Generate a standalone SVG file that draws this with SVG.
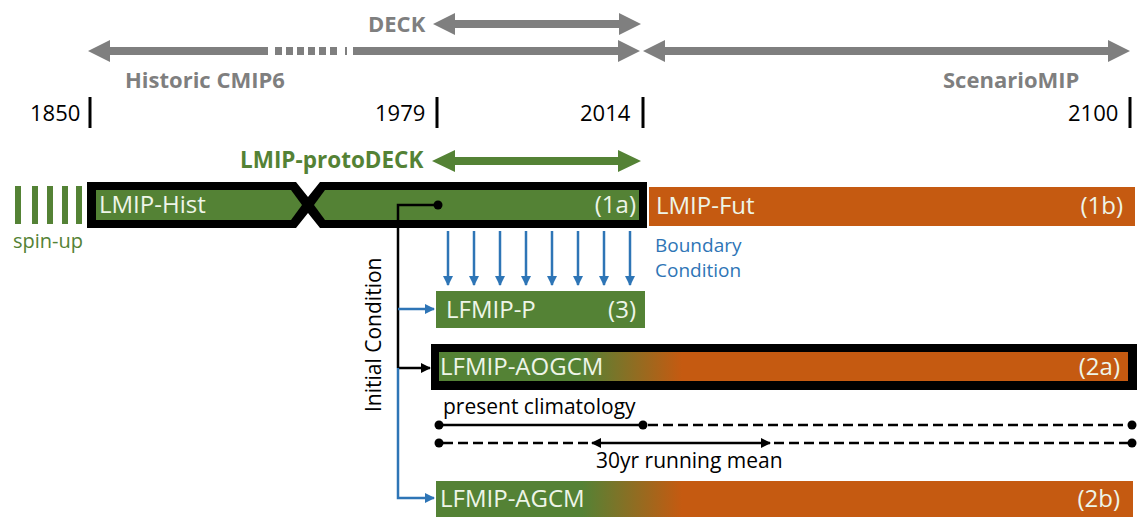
<svg xmlns="http://www.w3.org/2000/svg" width="1137" height="517" viewBox="0 0 1137 517">
<style>
  text { font-family: "Open Sans", "Noto Sans", "DejaVu Sans", sans-serif; }
  .gray { fill: #7f7f7f; }
  .grayt { fill: #7f7f7f; font-weight: bold; font-size: 22px; }
  .year { fill: #000; font-size: 22px; }
  .tick { stroke: #000; stroke-width: 3; }
  .green { fill: #548235; }
  .orange { fill: #c55a11; }
  .box { fill: #eef5e8; font-size: 24px; }
  .blue { stroke: #2e75b6; stroke-width: 2.5; fill: none; }
  .blk { stroke: #000; stroke-width: 2.5; fill: none; }
  .dash { stroke: #000; stroke-width: 2.5; fill: none; stroke-dasharray: 10 5; }
  .bluet { fill: #2e75b6; font-size: 19px; }
  .blkt { fill: #000; font-size: 21px; }
</style>
<defs>
  <marker id="ab" viewBox="0 0 10 10" refX="9" refY="5" markerWidth="4" markerHeight="4" orient="auto" markerUnits="strokeWidth">
    <path d="M0,0 L10,5 L0,10 Z" fill="#2e75b6"/>
  </marker>
  <marker id="ak" viewBox="0 0 10 10" refX="9" refY="5" markerWidth="4" markerHeight="4" orient="auto-start-reverse" markerUnits="strokeWidth">
    <path d="M0,0 L10,5 L0,10 Z" fill="#000"/>
  </marker>
  <linearGradient id="gr" gradientUnits="userSpaceOnUse" x1="582" y1="0" x2="682" y2="0">
    <stop offset="0" stop-color="#548235"/>
    <stop offset="1" stop-color="#c55a11"/>
  </linearGradient>
</defs>

<g id="deck">
  <path class="gray" d="M433,24 L455,13 L455,20 L619,20 L619,13 L641,24 L619,35 L619,28 L455,28 L455,35 Z"/>
  <text class="grayt" x="368" y="32">DECK</text>
</g>

<g id="historic-cmip6">
  <path class="gray" d="M88,51 L110,40 L110,47 L268,47 L268,55 L110,55 L110,62 Z"/>
  <rect class="gray" x="275" y="47" width="7" height="8"/>
  <rect class="gray" x="286" y="47" width="7" height="8"/>
  <rect class="gray" x="297" y="47" width="7" height="8"/>
  <rect class="gray" x="308" y="47" width="7" height="8"/>
  <rect class="gray" x="319" y="47" width="7" height="8"/>
  <rect class="gray" x="330" y="47" width="7" height="8"/>
  <rect class="gray" x="345" y="47" width="2" height="8"/>
  <path class="gray" d="M353,47 L618,47 L618,40 L640,51 L618,62 L618,55 L353,55 Z"/>
  <text class="grayt" x="125" y="88">Historic CMIP6</text>
</g>

<g id="scenariomip">
  <path class="gray" d="M643,51 L665,40 L665,47 L1108,47 L1108,40 L1130,51 L1108,62 L1108,55 L665,55 L665,62 Z"/>
  <text class="grayt" x="943" y="88">ScenarioMIP</text>
</g>

<g id="years">
  <text class="year" x="30" y="121">1850</text>
  <line class="tick" x1="90" y1="97" x2="90" y2="128"/>
  <text class="year" x="375" y="121">1979</text>
  <line class="tick" x1="437" y1="97" x2="437" y2="128"/>
  <text class="year" x="580" y="121">2014</text>
  <line class="tick" x1="643" y1="97" x2="643" y2="128"/>
  <text class="year" x="1068" y="121">2100</text>
  <line class="tick" x1="1130" y1="97" x2="1130" y2="128"/>
</g>

<g id="lmip-protodeck">
  <path class="green" d="M432,161 L455,150 L455,157 L618,157 L618,150 L641,161 L618,172 L618,165 L455,165 L455,172 Z"/>
  <text x="240" y="168" style="fill:#548235;font-weight:bold;font-size:22.5px">LMIP-protoDECK</text>
</g>

<g id="spin-up">
  <rect class="green" x="15" y="186" width="6" height="38"/>
  <rect class="green" x="32" y="186" width="6" height="38"/>
  <rect class="green" x="47" y="186" width="6" height="38"/>
  <rect class="green" x="62" y="186" width="6" height="38"/>
  <rect class="green" x="76" y="186" width="6" height="38"/>
  <text x="13" y="248" style="fill:#548235;font-size:20px">spin-up</text>
</g>

<g id="lmip-hist">
  <path fill="#000" d="M87,182 L296,182 L308,197 L320,182 L647,182 L647,228 L320,228 L308,213 L296,228 L87,228 Z"/>
  <path class="green" d="M96,190 L291,190 L302,205 L291,220 L96,220 Z"/>
  <path class="green" d="M325,190 L639,190 L639,220 L325,220 L314,205 Z"/>
  <text class="box" x="99" y="213">LMIP-Hist</text>
  <text class="box" x="636" y="213" text-anchor="end">(1a)</text>
</g>

<g id="lmip-fut">
  <rect class="orange" x="649" y="187" width="486" height="39"/>
  <text class="box" x="656" y="214">LMIP-Fut</text>
  <text class="box" x="1123" y="214" text-anchor="end">(1b)</text>
</g>

<g id="boundary-condition-label">
  <text class="bluet" x="655" y="252">Boundary</text>
  <text class="bluet" x="655" y="277">Condition</text>
</g>

<g id="initial-condition-label">
  <text class="blkt" transform="translate(381,412) rotate(-90)">Initial Condition</text>
</g>

<g id="lfmip-p">
  <rect class="green" x="436" y="291" width="209" height="37"/>
  <text class="box" x="446" y="318">LFMIP-P</text>
  <text class="box" x="636" y="318" text-anchor="end">(3)</text>
</g>

<g id="lfmip-aogcm">
  <rect fill="#000" x="431" y="344" width="706" height="46"/>
  <rect fill="url(#gr)" x="439" y="352" width="689" height="29"/>
  <text class="box" x="440" y="375">LFMIP-AOGCM</text>
  <text class="box" x="1120" y="375" text-anchor="end">(2a)</text>
</g>

<g id="climatology-labels">
  <text class="blkt" x="443" y="414">present climatology</text>
  <text class="blkt" x="596" y="468">30yr running mean</text>
</g>

<g id="lfmip-agcm">
  <rect fill="url(#gr)" x="436" y="481" width="697" height="36"/>
  <text class="box" x="440" y="507">LFMIP-AGCM</text>
  <text class="box" x="1120" y="507" text-anchor="end">(2b)</text>
</g>

<g id="connectors">
  <g id="boundary-arrows">
    <line class="blue" x1="448" y1="231" x2="448" y2="285" marker-end="url(#ab)"/>
    <line class="blue" x1="474" y1="231" x2="474" y2="285" marker-end="url(#ab)"/>
    <line class="blue" x1="500" y1="231" x2="500" y2="285" marker-end="url(#ab)"/>
    <line class="blue" x1="526" y1="231" x2="526" y2="285" marker-end="url(#ab)"/>
    <line class="blue" x1="552" y1="231" x2="552" y2="285" marker-end="url(#ab)"/>
    <line class="blue" x1="578" y1="231" x2="578" y2="285" marker-end="url(#ab)"/>
    <line class="blue" x1="604" y1="231" x2="604" y2="285" marker-end="url(#ab)"/>
    <line class="blue" x1="630" y1="231" x2="630" y2="285" marker-end="url(#ab)"/>
  </g>
  <g id="initial-condition">
    <circle cx="438" cy="205" r="4.5" fill="#000"/>
    <polyline class="blk" points="438,205 398,205 398,368"/>
    <line class="blk" x1="398" y1="368" x2="430" y2="368" marker-end="url(#ak)"/>
    <line class="blue" x1="398" y1="309" x2="434" y2="309" marker-end="url(#ab)"/>
    <polyline class="blue" points="398,368 398,498 434,498" marker-end="url(#ab)"/>
  </g>
  <g id="climatology-lines">
    <line class="blk" x1="439" y1="425" x2="643" y2="425"/>
    <line class="dash" x1="648" y1="425" x2="1132" y2="425"/>
    <circle cx="439" cy="425" r="4.5" fill="#000"/>
    <circle cx="643" cy="425" r="4.5" fill="#000"/>
    <circle cx="1132" cy="425" r="4.5" fill="#000"/>
    <line class="dash" x1="443" y1="443" x2="590" y2="443"/>
    <line class="blk" x1="592" y1="443" x2="770" y2="443" marker-start="url(#ak)" marker-end="url(#ak)"/>
    <line class="dash" x1="774" y1="443" x2="1132" y2="443"/>
    <circle cx="439" cy="443" r="4.5" fill="#000"/>
    <circle cx="1132" cy="443" r="4.5" fill="#000"/>
  </g>
</g>
</svg>
